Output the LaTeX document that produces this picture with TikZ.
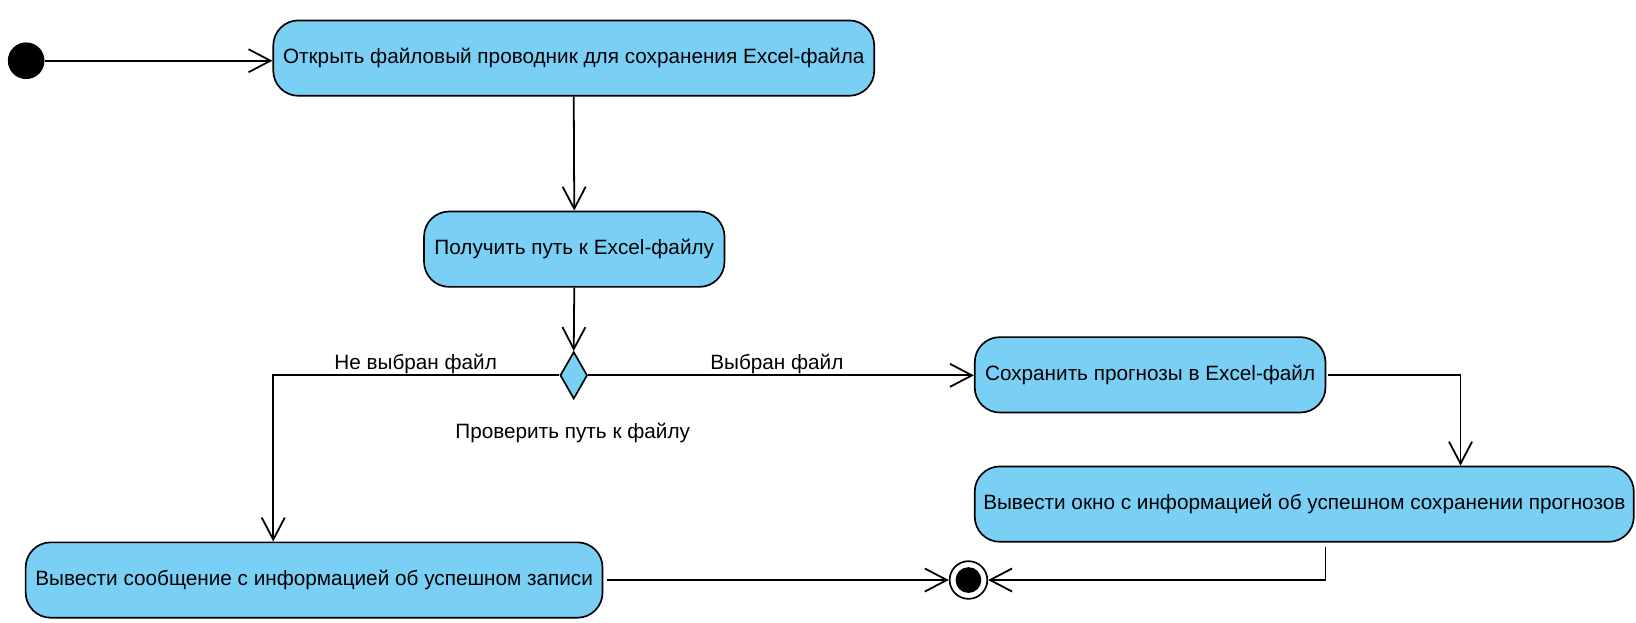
\documentclass[tikz,border=0pt]{standalone}
\usepackage{fontspec}
\setmainfont{Liberation Sans}
\usetikzlibrary{arrows.meta,shapes.geometric}
\definecolor{actfill}{HTML}{7ACFF5}
\tikzset{
  act/.style={draw=black, fill=actfill, line width=1.6pt, rounded corners=24pt,
    inner sep=0pt, minimum height=72pt, align=center,
    font=\fontsize{19.8}{23}\selectfont},
  conn/.style={line width=1.7pt, draw=black},
  arr/.style={conn, -{Straight Barb[length=21pt,width=22pt]}},
  lbl/.style={inner sep=0pt, anchor=base, font=\fontsize{19.8}{23}\selectfont},
}
\begin{document}
\begin{tikzpicture}[x=1pt,y=-1pt]
\useasboundingbox (0,0) rectangle (1562.6,595);
% nodes
\node[circle, fill=black, minimum size=35pt, inner sep=0pt] (init) at (25,58) {};
\node[act, minimum width=574pt] (b1) at (548,55.5) {Открыть файловый проводник для сохранения Excel-файла};
\node[act, minimum width=287pt] (b2) at (548.5,238) {Получить путь к Excel-файлу};
\node[diamond, draw=black, fill=actfill, line width=1.6pt, inner sep=0pt,
      minimum width=26pt, minimum height=45pt] (dia) at (548,358.5) {};
\node[lbl] (dialbl) at (547,418.5) {Проверить путь к файлу};
\node[act, minimum width=335pt] (b3) at (1098.5,358) {Сохранить прогнозы в Excel-файл};
\node[act, minimum width=629.5pt] (b5) at (1245.75,481.5) {Вывести окно с информацией об успешном сохранении прогнозов};
\node[act, minimum width=551pt] (b4) at (300,554) {Вывести сообщение с информацией об успешном записи};
\node[circle, draw=black, fill=white, line width=1.6pt, minimum size=36pt, inner sep=0pt,
      path picture={\fill[black] (path picture bounding box.center) circle (12.3pt);}] (fin) at (925,554) {};
% helper coordinates
\coordinate (k1) at (261,358.5);
\coordinate (k2) at (1395,358);
\coordinate (k3) at (1266,522);
% connectors
\draw[arr] (init.east) -- (init.east -| b1.west);
\draw[arr] (b1.south) -- (b2.north);
\draw[arr] (b2.south) -- (dia.north);
\draw[arr] (dia.west) -- (k1) -- (k1 |- b4.north);
\draw[arr] (dia.east) -- (dia.east -| b3.west);
\draw[arr, shorten <=2pt] (b3.east) -- (k2) -- (k2 |- b5.north);
\draw[arr] (k3) |- (fin.east);
\draw[arr, shorten <=3pt] (b4.east) -- (fin.west);
% edge labels
\node[lbl] (lno) at (397,353) {Не выбран файл};
\node[lbl] (lyes) at (742,353) {Выбран файл};
\end{tikzpicture}
\end{document}
